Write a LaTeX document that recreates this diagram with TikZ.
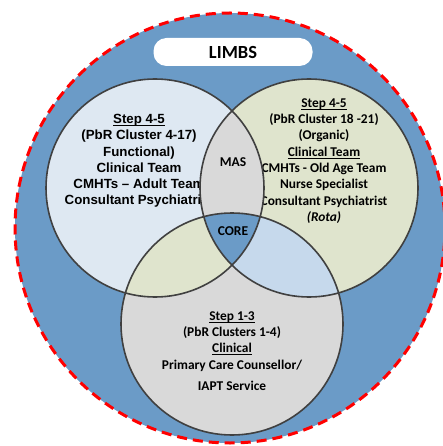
\documentclass[tikz,border=0pt]{standalone}
\usepackage{fontspec}
\usepackage{tikz}
\newfontfamily\calibri{Carlito}
\newfontfamily\arial{Liberation Sans}
\definecolor{outerblue}{RGB}{107,155,199}
\definecolor{funcblue}{RGB}{222,232,242}
\definecolor{organicgreen}{RGB}{223,228,205}
\definecolor{clinicgrey}{RGB}{217,217,217}
\definecolor{sideblue}{RGB}{198,217,236}
\definecolor{ringline}{RGB}{64,64,64}
% underlined heading inside the circles
\newcommand{\headline}[1]{\setbox0=\hbox{#1}\leavevmode\rlap{\rule[-2.2pt]{\wd0}{0.8pt}}\box0}

\begin{document}
\begin{tikzpicture}
      [ x = 1pt, y = -1pt
      , limit/.style =
        { draw = red, line width = 3pt, dash pattern = on 10pt off 6pt }
      , ring/.style =
        { draw = ringline, line width = 1.6pt }
      , banner/.style =
        { fill = white, rounded corners = 13pt, minimum width = 159pt
        , minimum height = 28pt, inner sep = 0pt
        , font = \calibri\bfseries\fontsize{18.5}{22}\selectfont }
      , textA/.style =
        { align = center, inner sep = 0pt
        , font = \arial\bfseries\fontsize{13.3}{16.2}\selectfont }
      , textC/.style =
        { align = center, inner sep = 0pt
        , font = \calibri\bfseries\fontsize{13.4}{16.3}\selectfont }
      , lens/.style =
        { inner sep = 0pt, font = \calibri\bfseries\fontsize{13.5}{16}\selectfont }
      ]
      \useasboundingbox (0, 0) rectangle (442, 446);
      \coordinate (o) at (230, 228);
      \coordinate (func) at (155, 188);
      \coordinate (org) at (309, 188);
      \coordinate (clin) at (232, 324);
      % outer limbs boundary
      \fill [outerblue] (o) circle (215pt);
      \draw [limit] (o) circle (215pt);
      \node [banner] (limbs) at (233, 52) {LIMBS};
      % the three services
      \fill [funcblue] (func) circle (109pt);
      \fill [organicgreen] (org) circle (109pt);
      \fill [clinicgrey] (clin) circle (111pt);
      \node [textA] (functional) at (139, 161)
        {\headline{Step 4-5}\\(PbR Cluster 4-17)\\Functional)\\Clinical Team\\
         CMHTs – Adult Team\\Consultant Psychiatrist};
      \node [textC] (organic) at (324, 161)
        {\headline{Step 4-5}\\(PbR Cluster 18 -21)\\(Organic)\\\headline{Clinical Team}\\
         CMHTs - Old Age Team\\Nurse Specialist\\Consultant Psychiatrist\\\textit{(Rota)}};
      \node [textC] (clinical) at (232, 351)
        {\headline{Step 1-3}\\(PbR Clusters 1-4)\\\headline{Clinical}\\
         Primary Care Counsellor/\\[5pt]IAPT Service};
      % overlaps
      \begin{scope}
        \clip (func) circle (109pt);
        \fill [clinicgrey] (org) circle (109pt);
        \fill [organicgreen] (clin) circle (111pt);
      \end{scope}
      \begin{scope}
        \clip (org) circle (109pt);
        \fill [sideblue] (clin) circle (111pt);
      \end{scope}
      \begin{scope}
        \clip (func) circle (109pt);
        \clip (org) circle (109pt);
        \fill [outerblue] (clin) circle (111pt);
      \end{scope}
      \draw [ring] (func) circle (109pt);
      \draw [ring] (org) circle (109pt);
      \draw [ring] (clin) circle (111pt);
      \node [lens] (mas) at (233, 162) {MAS};
      \node [lens] (core) at (233, 231) {CORE};
    \end{tikzpicture}
\end{document}
